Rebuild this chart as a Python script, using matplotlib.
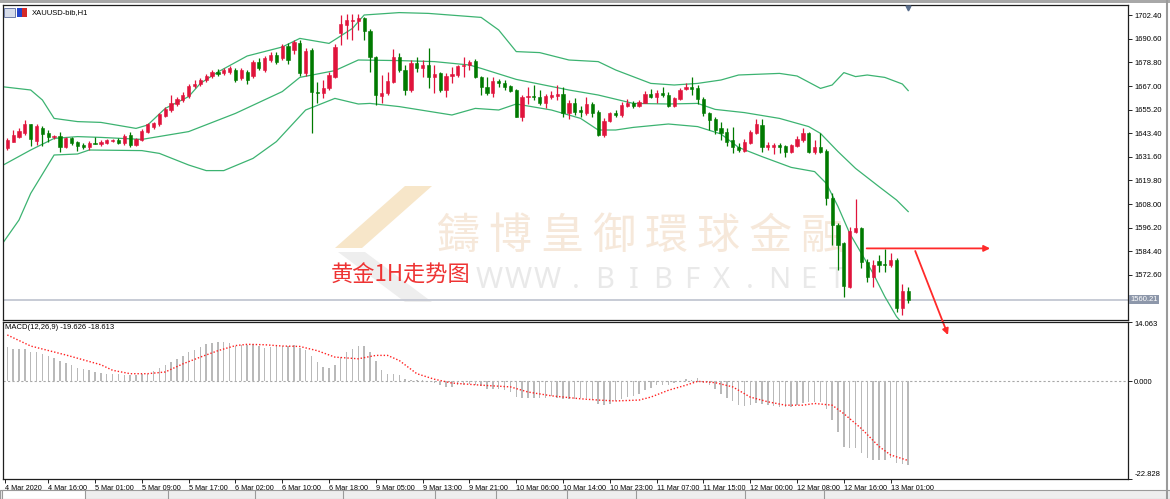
import matplotlib
matplotlib.use("Agg")
import matplotlib.pyplot as plt
from matplotlib.patches import Rectangle, Polygon
import numpy as np

plt.rcParams['font.family'] = ['Liberation Sans', 'DejaVu Sans']

# XAUUSD H1, 4 Mar 09:00 .. 13 Mar 04:00 (155 bars)
opens = [1635.9, 1639.2, 1641.7, 1643.7, 1647.8, 1639.7, 1646.2, 1643.3, 1641.3, 1642.0,
         1636.7, 1640.8, 1639.0, 1637.7, 1636.3, 1638.7, 1637.8, 1638.7, 1639.3, 1640.0,
         1638.7, 1642.5, 1637.5, 1640.0, 1644.2, 1646.7, 1647.8, 1652.0, 1655.0, 1658.0,
         1660.0, 1662.0, 1667.0, 1668.0, 1670.0, 1672.0, 1674.0, 1673.5, 1674.0, 1675.0,
         1671.0, 1674.0, 1672.0, 1679.0, 1675.0, 1680.0, 1682.5, 1681.0, 1687.0, 1685.0,
         1688.5, 1673.3, 1685.0, 1664.2, 1663.5, 1666.0, 1671.7, 1693.7, 1697.5, 1699.7,
         1699.7, 1700.8, 1694.7, 1681.3, 1662.0, 1663.3, 1669.2, 1681.3, 1675.0, 1665.0,
         1678.7, 1675.8, 1677.5, 1671.7, 1673.3, 1665.0, 1672.0, 1672.5, 1677.0, 1677.5,
         1679.7, 1671.7, 1666.3, 1663.7, 1669.7, 1668.7, 1667.0, 1665.0, 1651.7, 1661.7,
         1662.2, 1661.7, 1658.3, 1661.7, 1662.0, 1662.8, 1653.3, 1658.7, 1655.0, 1653.7,
         1658.0, 1654.2, 1642.5, 1649.7, 1653.3, 1652.5, 1657.0, 1658.3, 1657.0, 1658.7,
         1663.0, 1661.7, 1663.3, 1662.5, 1657.0, 1660.3, 1665.3, 1666.3, 1665.8, 1660.5,
         1653.3, 1650.3, 1645.8, 1644.2, 1640.0, 1636.7, 1634.7, 1638.7, 1643.7, 1647.5,
         1636.7, 1636.7, 1637.5, 1637.0, 1634.2, 1637.0, 1640.0, 1643.3, 1634.2, 1636.7,
         1634.7, 1610.8, 1597.5, 1588.3, 1566.7, 1594.2, 1595.8, 1579.2, 1571.7, 1579.7,
         1578.0, 1577.5, 1580.0, 1555.8, 1564.7]
highs = [1641.0, 1645.0, 1646.0, 1650.0, 1648.0, 1648.0, 1647.0, 1645.0, 1642.5, 1644.2,
         1641.5, 1641.5, 1639.5, 1638.5, 1639.5, 1641.3, 1640.0, 1640.5, 1640.5, 1641.0,
         1643.0, 1644.0, 1641.0, 1645.5, 1648.5, 1649.0, 1653.5, 1656.5, 1662.5, 1661.5,
         1664.0, 1668.0, 1670.0, 1671.0, 1673.0, 1675.0, 1675.5, 1676.0, 1677.0, 1676.0,
         1676.0, 1675.0, 1680.0, 1681.0, 1682.0, 1684.0, 1684.0, 1688.0, 1688.5, 1690.0,
         1690.0, 1686.0, 1686.0, 1669.2, 1670.0, 1674.0, 1688.0, 1702.5, 1703.0, 1703.0,
         1703.0, 1701.5, 1695.5, 1682.0, 1672.5, 1674.2, 1685.3, 1683.3, 1677.5, 1680.0,
         1681.3, 1680.0, 1685.8, 1677.5, 1674.2, 1673.3, 1676.7, 1677.5, 1681.3, 1680.0,
         1680.3, 1672.0, 1671.7, 1671.3, 1670.3, 1670.0, 1667.5, 1665.5, 1662.5, 1666.3,
         1667.5, 1665.0, 1663.0, 1664.7, 1667.5, 1666.3, 1660.0, 1660.8, 1657.0, 1661.7,
         1659.2, 1655.0, 1650.8, 1654.2, 1655.0, 1659.2, 1660.3, 1659.7, 1660.0, 1664.7,
         1665.3, 1665.0, 1666.3, 1664.2, 1661.3, 1665.8, 1668.3, 1671.7, 1667.5, 1661.5,
         1654.2, 1651.3, 1649.2, 1645.8, 1646.7, 1638.3, 1640.3, 1645.0, 1650.3, 1650.3,
         1639.2, 1638.7, 1638.7, 1637.5, 1638.0, 1642.0, 1645.8, 1644.2, 1640.0, 1643.3,
         1635.5, 1613.7, 1598.7, 1589.0, 1596.7, 1610.3, 1596.7, 1580.3, 1580.0, 1582.5,
         1585.3, 1583.7, 1580.8, 1568.0, 1566.3]
lows = [1635.0, 1639.0, 1641.0, 1642.5, 1637.0, 1637.5, 1637.2, 1638.8, 1640.5, 1634.2,
        1636.0, 1637.5, 1634.7, 1635.5, 1635.0, 1637.8, 1637.0, 1638.0, 1639.0, 1638.0,
        1637.5, 1636.5, 1637.0, 1639.5, 1643.5, 1645.3, 1647.0, 1651.5, 1654.2, 1657.0,
        1659.0, 1661.0, 1666.0, 1667.0, 1669.0, 1671.0, 1672.0, 1672.5, 1673.0, 1669.0,
        1670.0, 1668.0, 1671.0, 1675.0, 1674.0, 1679.0, 1678.0, 1680.0, 1678.0, 1683.0,
        1672.0, 1672.0, 1643.5, 1658.3, 1661.0, 1665.0, 1671.0, 1687.5, 1690.3, 1690.0,
        1695.0, 1690.0, 1674.2, 1657.5, 1658.3, 1662.5, 1668.3, 1674.2, 1662.5, 1664.0,
        1674.2, 1671.7, 1665.8, 1663.3, 1664.2, 1661.7, 1668.3, 1671.7, 1671.3, 1675.0,
        1670.8, 1662.5, 1662.5, 1661.7, 1666.3, 1665.0, 1664.2, 1651.3, 1649.7, 1658.0,
        1660.0, 1657.5, 1655.8, 1660.3, 1660.0, 1651.3, 1650.3, 1652.5, 1651.3, 1652.5,
        1651.3, 1642.0, 1641.7, 1649.2, 1651.7, 1651.3, 1656.7, 1655.8, 1656.7, 1658.3,
        1660.8, 1658.3, 1661.7, 1656.7, 1656.3, 1660.0, 1665.0, 1662.5, 1658.0, 1652.0,
        1645.0, 1643.0, 1640.0, 1637.0, 1633.3, 1634.2, 1634.2, 1638.0, 1643.0, 1634.2,
        1635.0, 1633.0, 1633.7, 1631.3, 1633.3, 1636.3, 1639.2, 1633.3, 1633.0, 1633.3,
        1607.5, 1587.5, 1575.0, 1561.7, 1565.8, 1593.3, 1575.8, 1569.2, 1566.7, 1574.2,
        1574.2, 1576.7, 1554.2, 1552.5, 1558.7]
closes = [1640.0, 1642.5, 1644.7, 1647.8, 1640.3, 1647.0, 1643.0, 1641.3, 1642.0, 1636.7,
          1640.8, 1638.7, 1637.0, 1636.7, 1638.7, 1638.0, 1639.2, 1640.0, 1640.0, 1638.7,
          1642.2, 1637.5, 1640.3, 1644.7, 1647.8, 1648.3, 1652.8, 1655.5, 1658.7, 1660.3,
          1662.5, 1667.0, 1668.0, 1670.0, 1672.0, 1674.0, 1673.0, 1675.0, 1676.0, 1670.0,
          1675.0, 1670.0, 1679.0, 1676.0, 1681.0, 1682.5, 1679.0, 1687.0, 1680.0, 1689.0,
          1673.5, 1684.7, 1664.2, 1663.3, 1666.0, 1672.5, 1686.7, 1698.0, 1700.0, 1700.0,
          1700.8, 1694.7, 1681.3, 1662.5, 1663.7, 1669.7, 1681.3, 1675.0, 1665.0, 1678.7,
          1675.8, 1677.5, 1671.7, 1673.0, 1665.0, 1672.0, 1673.0, 1677.0, 1677.5, 1679.2,
          1671.7, 1666.3, 1663.7, 1669.7, 1668.7, 1666.7, 1664.7, 1651.7, 1661.7, 1662.2,
          1661.3, 1658.3, 1662.2, 1662.5, 1662.8, 1653.3, 1658.3, 1654.2, 1654.2, 1658.0,
          1653.7, 1642.5, 1649.7, 1653.3, 1652.5, 1657.5, 1658.7, 1657.0, 1659.2, 1663.0,
          1661.7, 1663.3, 1662.5, 1657.0, 1660.8, 1665.0, 1666.3, 1665.7, 1660.5, 1653.3,
          1650.0, 1645.0, 1643.3, 1639.2, 1636.7, 1635.0, 1639.2, 1644.2, 1648.0, 1636.7,
          1637.5, 1637.5, 1636.7, 1634.2, 1637.5, 1640.3, 1643.7, 1634.2, 1636.7, 1634.2,
          1610.8, 1597.5, 1587.5, 1567.0, 1594.7, 1595.8, 1579.2, 1571.7, 1577.5, 1577.5,
          1577.5, 1580.0, 1555.8, 1564.7, 1560.21]

# Bollinger bands (bar index, price)
upper_idx = [-1, 4, 6, 8, 12, 16, 22, 24, 27, 31, 33, 36, 41, 47, 50, 55, 59, 61, 67, 72,
             81, 84, 87, 91, 96, 101, 104, 110, 114, 118, 122, 125, 132, 135, 139, 141,
             143, 145, 147, 150, 153, 154]
upper_val = [1666.7, 1665.0, 1660.0, 1650.8, 1649.2, 1648.8, 1645.8, 1647.5, 1655.8, 1661.7,
             1668.3, 1674.0, 1682.0, 1686.5, 1690.8, 1688.3, 1695.8, 1702.5, 1703.7, 1703.3,
             1701.3, 1695.0, 1684.2, 1683.7, 1680.0, 1679.2, 1675.0, 1668.3, 1667.5, 1668.3,
             1670.0, 1672.5, 1673.3, 1672.0, 1665.8, 1667.5, 1673.7, 1671.7, 1672.5, 1671.3,
             1668.0, 1664.7]
mid_idx = [-1, 4, 8, 12, 16, 23, 31, 39, 47, 50, 56, 60, 67, 73, 79, 81, 87, 96, 101, 107,
           113, 118, 121, 126, 132, 137, 139, 142, 145, 149, 152, 154]
mid_val = [1627.0, 1635.0, 1640.8, 1641.7, 1641.3, 1640.3, 1644.2, 1653.3, 1664.2, 1671.3,
           1674.7, 1680.0, 1679.7, 1679.2, 1677.5, 1675.8, 1670.3, 1665.0, 1662.5, 1658.3,
           1658.0, 1658.3, 1655.3, 1653.7, 1650.8, 1646.7, 1643.3, 1634.2, 1625.8, 1616.7,
           1610.0, 1604.2]
lower_idx = [-1, 2, 4, 8, 12, 14, 23, 26, 31, 34, 37, 42, 46, 51, 56, 60, 62, 67, 76, 80,
             84, 87, 93, 98, 101, 104, 107, 113, 118, 122, 125, 129, 134, 138, 140, 142,
             144, 146, 148, 150, 152, 154]
lower_val = [1587.5, 1600.0, 1613.3, 1632.5, 1633.0, 1635.0, 1634.7, 1633.3, 1627.5, 1624.7,
             1624.7, 1630.8, 1639.2, 1655.0, 1660.8, 1658.0, 1658.3, 1656.7, 1652.5, 1655.8,
             1655.0, 1658.0, 1655.0, 1650.8, 1645.0, 1645.0, 1646.3, 1648.0, 1646.7, 1643.0,
             1636.3, 1631.7, 1626.3, 1624.2, 1618.3, 1606.7, 1593.3, 1583.3, 1573.3, 1561.7,
             1551.7, 1545.0]

# MACD(12,26,9) histogram and signal line
macd = [8.01, 7.62, 7.62, 7.62, 6.85, 6.85, 6.46, 6.07, 5.45, 4.67,
        4.36, 3.89, 3.11, 2.80, 2.57, 2.18, 2.02, 1.79, 1.79, 1.79,
        1.56, 1.56, 1.56, 1.79, 1.79, 2.33, 3.11, 3.89, 4.51, 5.29,
        6.07, 6.85, 7.47, 8.01, 8.79, 9.02, 9.18, 9.34, 9.02, 8.40,
        8.56, 8.56, 8.79, 8.25, 7.78, 8.01, 8.25, 8.40, 8.40, 8.56,
        7.78, 7.47, 6.07, 4.51, 3.35, 3.11, 3.89, 5.68, 6.85, 7.62,
        8.40, 8.25, 6.85, 4.67, 2.57, 1.79, 1.79, 1.40, 0.47, 0.23,
        0.23, 0.23, 0.16, -0.31, -0.78, -1.32, -1.32, -0.93, -0.93, -0.54,
        -0.93, -1.09, -1.71, -1.71, -1.71, -2.10, -2.49, -3.66, -3.89, -3.89,
        -3.89, -3.89, -3.89, -3.42, -3.89, -4.20, -4.20, -4.20, -3.89, -3.89,
        -4.43, -5.21, -5.45, -5.21, -4.67, -4.20, -3.66, -3.42, -2.88, -2.10,
        -1.56, -0.93, -0.78, -0.78, -0.31, 0.05, 0.62, 0.23, 0.78, -0.31,
        -0.93, -1.87, -2.88, -3.89, -4.67, -5.60, -5.76, -5.45, -4.98, -5.21,
        -5.60, -5.76, -5.99, -5.99, -5.99, -5.60, -4.98, -4.82, -4.82, -4.82,
        -6.54, -9.10, -11.83, -15.33, -15.72, -15.56, -16.88, -18.05, -18.44, -18.44,
        -18.44, -18.05, -19.22, -19.45, -19.626]
signal_idx = [0, 4, 10, 16, 18, 21, 24, 27, 30, 33, 36, 39, 41, 44, 47, 50, 53, 56, 60, 63,
              65, 67, 70, 73, 76, 81, 86, 89, 93, 98, 101, 104, 108, 110, 113, 116, 118,
              121, 124, 127, 130, 133, 136, 138, 141, 143, 146, 149, 151, 154]
signal_val = [10.9, 8.3, 6.2, 3.9, 2.6, 1.8, 1.8, 2.2, 4.1, 5.7, 7.2, 8.4, 8.7, 8.6, 8.3,
              8.2, 7.2, 5.7, 5.3, 6.1, 6.1, 4.9, 1.8, 0.5, -0.4, -0.9, -1.3, -2.5, -3.4,
              -4.1, -4.4, -4.6, -4.4, -3.7, -2.1, -0.9, 0.0, -0.3, -1.3, -3.7, -4.8, -5.6,
              -5.6, -5.2, -5.6, -7.6, -11.1, -15.3, -17.3, -18.613]

# time axis
tick_idx = [-0.35] + [7 + 8 * k for k in range(19)]
tick_labels = ["4 Mar 2020", "4 Mar 16:00", "5 Mar 01:00", "5 Mar 09:00", "5 Mar 17:00",
               "6 Mar 02:00", "6 Mar 10:00", "6 Mar 18:00", "9 Mar 05:00", "9 Mar 13:00",
               "9 Mar 21:00", "10 Mar 06:00", "10 Mar 14:00", "10 Mar 23:00", "11 Mar 07:00",
               "11 Mar 15:00", "12 Mar 00:00", "12 Mar 08:00", "12 Mar 16:00", "13 Mar 01:00"]
price_ticks = [1572.6, 1584.4, 1596.2, 1608.0, 1619.8, 1631.6, 1643.4, 1655.2,
               1667.0, 1678.8, 1690.6, 1702.4]
bid = 1560.21
macd_top, macd_bottom = 14.063, -22.828

# hand drawn arrows (bar index, price)
arrow_h = [(146.9, 1585.8), (168.0, 1585.8)]
arrow_d = [(155.2, 1584.5), (160.8, 1542.5)]

W, H = 1170, 499
fig = plt.figure(figsize=(W / 100, H / 100), dpi=100)


def box(l, t, r, b):
    return [l / W, 1 - b / H, (r - l) / W, (b - t) / H]


ax = fig.add_axes(box(2.5, 5, 1128, 319.5))
ax2 = fig.add_axes(box(2.5, 321.5, 1128, 478.5), sharex=ax)
ax2.set_facecolor('none')

n = len(opens)
idx = np.arange(n)
o, h, l, c = map(np.array, (opens, highs, lows, closes))
col = np.where(c >= o, '#e0143c', '#007a00')

# bands
for bi, bv in ((upper_idx, upper_val), (mid_idx, mid_val), (lower_idx, lower_val)):
    ax.plot(bi, bv, color='#3cb371', lw=0.9, zorder=2)

# candles
ax.vlines(idx, l, h, colors=col, lw=0.9, zorder=3)
ax.bar(idx, c - o, bottom=o, width=0.55, color=col, edgecolor=col, lw=0.4, zorder=4)

ax.axhline(bid, color='#c3c7d2', lw=1.3, zorder=1.5)

ax.set_xlim(-0.82, 191.57)
ax.set_ylim(1550.25, 1707.5)
ax.yaxis.tick_right()
ax.set_yticks(price_ticks)
ax.set_yticklabels([f"{p:.2f}" for p in price_ticks])
ax.tick_params(axis='y', direction='out', length=3, width=0.6, pad=1.5, labelsize=5.5)
ax.tick_params(axis='x', bottom=False, labelbottom=False)
ax.text(1.002, bid, f"{bid:.2f}", transform=ax.get_yaxis_transform(), ha='left', va='center',
        fontsize=5.5, color='white', clip_on=False, zorder=10,
        bbox=dict(boxstyle='square,pad=0.15', fc='#8d97aa', ec='none'))

# watermark
wm_chars = "鑄博皇御環球金融"
for k, ch in enumerate(wm_chars):
    ax.text((458 + 52 * k) / W, 1 - 237 / H, ch, transform=fig.transFigure, ha='center',
            va='center', fontsize=31, color='#f6e8da', family=['Noto Sans CJK TC'], zorder=1)
for k, ch in enumerate("WWW.BIBFX.NET"):
    ax.text((489 + 29 * k) / W, 1 - 281 / H, ch, transform=fig.transFigure, ha='center',
            va='center', fontsize=21, color='#e9e9e9', family=['Noto Sans'], zorder=1)
logo_top = [(335, 248), (405, 186), (432, 186), (362, 248)]
logo_bot = [(338, 252), (365, 252), (432, 302), (405, 302)]
for pts, fc in ((logo_top, '#f7e6c9'), (logo_bot, '#eeeeee')):
    ax.add_patch(Polygon([(x / W, 1 - y / H) for x, y in pts], closed=True,
                         transform=fig.transFigure, fc=fc, ec='none', zorder=1))

ax.text(401 / W, 1 - 275 / H, "黄金1H走势图", transform=fig.transFigure, ha='center',
        va='center', fontsize=16, color='#ee3333', family=['Noto Sans CJK SC', 'DejaVu Sans'],
        zorder=8)

for (x0, y0), (x1, y1) in (arrow_h, arrow_d):
    ax.annotate("", xy=(x1, y1), xytext=(x0, y0), annotation_clip=False, zorder=9,
                arrowprops=dict(arrowstyle='-|>', color='#ff2a2a', lw=1.3,
                                mutation_scale=9, shrinkA=0, shrinkB=0, clip_on=False))

# MACD pane
ax2.bar(idx, macd, width=0.25, color='#b9b9b9', zorder=2)
ax2.plot(signal_idx, signal_val, color='#ff2020', lw=1.0, ls=(0, (1, 1.4)), zorder=3)
ax2.axhline(0, color='#a8a8a8', lw=0.8, ls=(0, (2, 2)), zorder=1)
ax2.set_ylim(macd_bottom, macd_top)
ax2.yaxis.tick_right()
ax2.set_yticks([macd_top, 0, macd_bottom])
ax2.set_yticklabels([f"{macd_top:.3f}", "0.000", f"{macd_bottom:.3f}"])
ylabs = ax2.get_yticklabels()
ylabs[0].set_va('top')
ylabs[2].set_va('bottom')
ax2.tick_params(axis='y', direction='out', length=3, width=0.6, pad=1.5, labelsize=5.5)
ax2.set_xticks(tick_idx)
ax2.set_xticklabels(tick_labels, ha='left')
ax2.tick_params(axis='x', direction='out', length=3, width=0.6, pad=1.5, labelsize=5.2)
ax2.text(0.002, 0.985, "MACD(12,26,9) -19.626 -18.613", transform=ax2.transAxes,
         va='top', fontsize=5.5)

for a in (ax, ax2):
    for s in a.spines.values():
        s.set_color('#1e1e1e')
        s.set_linewidth(0.9)

# window chrome
fig.add_artist(Rectangle((0, 1 - 3 / H), 1, 3 / H, transform=fig.transFigure,
                         fc='#a8a8a8', ec='none'))
fig.add_artist(Rectangle((0, 0), 1, 9 / H, transform=fig.transFigure,
                         fc='#eeeeee', ec='#9a9a9a', lw=0.8))
fig.add_artist(Rectangle((2 / W, 0), 83 / W, 9 / H, transform=fig.transFigure,
                         fc='white', ec='#9a9a9a', lw=0.8))
for tx in [168, 255, 343, 435, 496, 567, 636, 745, 824]:
    fig.add_artist(plt.Line2D([tx / W, tx / W], [0, 9 / H], transform=fig.transFigure,
                              color='#9a9a9a', lw=0.8))
fig.add_artist(plt.Line2D([1167 / W, 1167 / W], [0, 1], transform=fig.transFigure,
                          color='#9a9a9a', lw=1.5))

# symbol caption with small icons
fig.add_artist(Rectangle((4 / W, 1 - 17 / H), 11 / W, 9 / H, transform=fig.transFigure,
                         fc='#d6dcea', ec='#5a6a9a', lw=0.6))
fig.add_artist(Rectangle((17 / W, 1 - 17 / H), 5 / W, 9 / H, transform=fig.transFigure,
                         fc='#2244cc', ec='none'))
fig.add_artist(Rectangle((22 / W, 1 - 17 / H), 5 / W, 9 / H, transform=fig.transFigure,
                         fc='#d42a2a', ec='none'))
fig.text(32 / W, 1 - 12.5 / H, "XAUUSD-bib,H1", fontsize=5.5, va='center')
ax.plot([153.9], [1706.2], marker='v', ms=3.5, color='#5a6e8c', clip_on=False, zorder=10)

fig.savefig("out.png", dpi=100)
